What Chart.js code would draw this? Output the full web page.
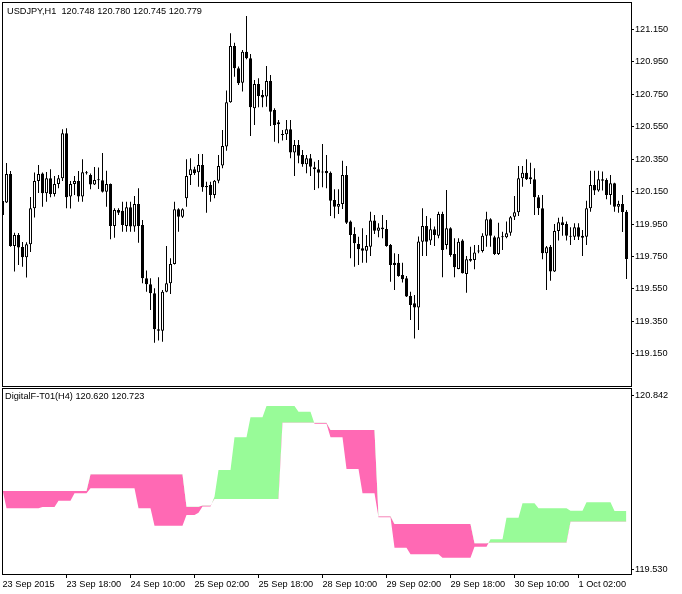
<!DOCTYPE html>
<html>
<head>
<meta charset="utf-8">
<script src="https://cdn.jsdelivr.net/npm/chart.js@4.4.0/dist/chart.umd.min.js"></script>
<style>
body { margin: 0; background: #fff; width: 682px; height: 594px; overflow: hidden; position: relative; }
canvas { position: absolute; left: 0; }
#priceChart { top: 0; }
#indChart { top: 387px; }
.hdr { position: absolute; font-family: "Liberation Sans", Arial, sans-serif; font-size: 9.2px; line-height: 11px; color: #000; white-space: pre; }
</style>
</head>
<body>
<canvas id="priceChart" width="682" height="387" style="width:682px;height:387px"></canvas>
<canvas id="indChart" width="682" height="207" style="width:682px;height:207px"></canvas>
<div class="hdr" style="left:7px;top:6px">USDJPY,H1  120.748 120.780 120.745 120.779</div>
<div class="hdr" style="left:5px;top:391px">DigitalF-T01(H4) 120.620 120.723</div>
<script>
// H1 candles, 23 Sep 02:00 .. 1 Oct 14:00
var open = [
 120.092, 120.082, 120.258, 119.815, 119.883, 119.808, 119.745, 119.825, 120.047, 120.215,
 120.262, 120.140, 120.232, 120.135, 120.197, 120.232, 120.509, 120.119, 120.197, 120.215,
 120.119, 120.269, 120.252, 120.194, 120.222, 120.220, 120.149, 120.197, 119.938, 120.037,
 120.032, 119.938, 120.053, 119.934, 120.074, 119.944, 119.616, 119.579, 119.523, 119.302,
 119.293, 119.533, 119.585, 119.704, 120.041, 119.995, 120.109, 120.252, 120.287, 120.269,
 120.314, 120.185, 120.191, 120.129, 120.217, 120.310, 120.427, 120.700, 121.047, 120.910,
 120.821, 121.012, 120.971, 120.663, 120.813, 120.745, 120.735, 120.831, 120.653, 120.565,
 120.500, 120.503, 120.534, 120.390, 120.437, 120.376, 120.318, 120.355, 120.300, 120.287,
 120.268, 120.277, 120.266, 120.098, 120.057, 120.074, 120.252, 119.965, 119.889, 119.827,
 119.801, 119.786, 119.810, 119.971, 119.909, 119.928, 119.920, 119.821, 119.712, 119.712,
 119.636, 119.616, 119.507, 119.462, 119.436, 119.841, 119.938, 119.848, 119.918, 119.877,
 120.012, 119.821, 119.924, 119.766, 119.673, 119.848, 119.642, 119.735, 119.729, 119.780,
 119.784, 119.877, 119.979, 119.869, 119.766, 119.869, 119.869, 119.897, 119.995, 120.023,
 120.232, 120.266, 120.238, 120.226, 120.115, 120.047, 119.770, 119.810, 119.657, 119.907,
 119.961, 119.950, 119.874, 119.872, 119.930, 119.877, 119.872, 120.047, 120.191, 120.156,
 120.226, 120.222, 120.129, 120.201, 120.057, 120.074, 120.026
];
var high = [
 120.129, 120.326, 120.277, 119.897, 119.895, 119.840, 119.838, 120.117, 120.268, 120.314,
 120.268, 120.271, 120.287, 120.246, 120.252, 120.534, 120.540, 120.215, 120.246, 120.277,
 120.349, 120.277, 120.261, 120.302, 120.299, 120.388, 120.279, 120.200, 120.047, 120.047,
 120.088, 120.088, 120.088, 120.123, 120.170, 119.975, 119.663, 119.616, 119.554, 119.622,
 119.544, 119.815, 119.739, 120.088, 120.047, 120.047, 120.349, 120.355, 120.303, 120.382,
 120.382, 120.211, 120.211, 120.222, 120.376, 120.530, 120.772, 121.125, 121.067, 120.920,
 121.022, 121.232, 120.998, 120.838, 120.848, 120.776, 120.924, 120.868, 120.663, 120.591,
 120.530, 120.591, 120.591, 120.468, 120.468, 120.406, 120.376, 120.382, 120.334, 120.345,
 120.443, 120.376, 120.273, 120.164, 120.164, 120.340, 120.308, 119.971, 119.930, 119.872,
 119.924, 119.883, 120.026, 120.006, 119.955, 120.006, 119.975, 119.827, 119.770, 119.766,
 119.712, 119.630, 119.533, 119.513, 119.873, 120.047, 120.000, 119.986, 119.934, 120.026,
 120.026, 120.160, 119.930, 119.862, 119.862, 119.856, 119.753, 119.810, 119.821, 119.821,
 119.893, 120.026, 119.986, 119.877, 119.958, 119.903, 119.965, 120.000, 120.123, 120.308,
 120.308, 120.349, 120.328, 120.294, 120.129, 120.129, 119.815, 119.821, 119.950, 119.989,
 119.995, 119.965, 119.930, 119.955, 119.955, 119.913, 120.094, 120.279, 120.279, 120.279,
 120.273, 120.232, 120.252, 120.205, 120.094, 120.129, 120.037
];
var low = [
 120.000, 120.080, 119.810, 119.657, 119.698, 119.687, 119.621, 119.778, 119.990, 120.141,
 120.057, 120.088, 120.115, 120.119, 120.170, 120.215, 120.047, 120.046, 120.129, 120.088,
 120.088, 120.255, 120.164, 120.191, 120.166, 120.145, 120.057, 119.856, 119.866, 120.006,
 119.903, 119.903, 119.903, 119.903, 119.835, 119.585, 119.533, 119.421, 119.219, 119.232,
 119.225, 119.530, 119.519, 119.700, 119.903, 119.987, 120.057, 120.191, 120.252, 120.180,
 120.149, 120.020, 120.088, 120.109, 120.201, 120.294, 120.402, 120.698, 120.858, 120.807,
 120.766, 120.965, 120.493, 120.560, 120.669, 120.669, 120.673, 120.554, 120.457, 120.448,
 120.464, 120.468, 120.355, 120.246, 120.324, 120.303, 120.263, 120.246, 120.160, 120.170,
 120.177, 120.170, 120.000, 119.986, 120.012, 120.043, 119.950, 119.739, 119.687, 119.698,
 119.712, 119.712, 119.753, 119.889, 119.869, 119.862, 119.810, 119.595, 119.544, 119.625,
 119.589, 119.500, 119.359, 119.245, 119.297, 119.753, 119.753, 119.821, 119.815, 119.862,
 119.622, 119.795, 119.749, 119.622, 119.671, 119.645, 119.527, 119.718, 119.671, 119.770,
 119.774, 119.810, 119.810, 119.759, 119.759, 119.790, 119.862, 119.877, 119.975, 120.000,
 120.180, 120.222, 120.197, 120.006, 120.006, 119.733, 119.544, 119.601, 119.655, 119.848,
 119.877, 119.848, 119.821, 119.852, 119.852, 119.753, 119.821, 120.026, 120.129, 120.149,
 120.156, 120.103, 120.068, 120.026, 120.020, 119.901, 119.612
];
var close = [
 120.006, 120.258, 119.815, 119.883, 119.806, 119.745, 119.825, 120.047, 120.215, 120.258,
 120.140, 120.232, 120.135, 120.197, 120.232, 120.509, 120.115, 120.197, 120.215, 120.119,
 120.269, 120.263, 120.194, 120.222, 120.220, 120.149, 120.197, 119.938, 120.037, 120.020,
 119.944, 120.053, 119.934, 120.074, 119.938, 119.616, 119.579, 119.523, 119.302, 119.293,
 119.533, 119.585, 119.704, 120.041, 119.995, 120.041, 120.246, 120.287, 120.263, 120.314,
 120.177, 120.177, 120.129, 120.217, 120.308, 120.431, 120.700, 121.047, 120.910, 120.817,
 121.012, 120.971, 120.669, 120.813, 120.739, 120.729, 120.831, 120.642, 120.560, 120.577,
 120.498, 120.534, 120.390, 120.437, 120.371, 120.318, 120.355, 120.303, 120.287, 120.266,
 120.273, 120.263, 120.094, 120.057, 120.074, 120.252, 119.958, 119.883, 119.832, 119.795,
 119.786, 119.815, 119.971, 119.909, 119.928, 119.918, 119.815, 119.698, 119.698, 119.630,
 119.610, 119.503, 119.451, 119.436, 119.843, 119.938, 119.841, 119.918, 119.883, 120.012,
 119.790, 119.924, 119.759, 119.684, 119.841, 119.647, 119.733, 119.724, 119.774, 119.784,
 119.877, 119.979, 119.877, 119.766, 119.869, 119.870, 119.893, 119.992, 120.023, 120.232,
 120.266, 120.226, 120.226, 120.115, 120.047, 119.770, 119.807, 119.657, 119.907, 119.961,
 119.944, 119.877, 119.872, 119.930, 119.872, 119.866, 120.047, 120.191, 120.156, 120.226,
 120.217, 120.129, 120.201, 120.057, 120.074, 120.024, 119.735
];

// DigitalF-T01(H4) lines
var fastLine = [
 120.129, 119.988, 119.988, 119.988, 119.988, 119.988, 119.988, 119.988, 119.988, 119.988,
 119.997, 119.997, 119.997, 119.997, 120.045, 120.045, 120.045, 120.045, 120.101, 120.101,
 120.101, 120.101, 120.138, 120.138, 120.138, 120.138, 120.138, 120.138, 120.138, 120.138,
 120.138, 120.138, 120.138, 120.138, 119.988, 119.988, 119.988, 119.988, 119.856, 119.856,
 119.856, 119.856, 119.856, 119.856, 119.856, 119.856, 119.937, 119.937, 119.937, 119.954,
 120.001, 120.001, 120.001, 120.075, 120.276, 120.276, 120.276, 120.276, 120.523, 120.523,
 120.523, 120.523, 120.674, 120.674, 120.674, 120.674, 120.759, 120.759, 120.759, 120.759,
 120.759, 120.759, 120.759, 120.759, 120.716, 120.716, 120.716, 120.716, 120.626, 120.626,
 120.626, 120.626, 120.523, 120.523, 120.523, 120.523, 120.284, 120.284, 120.284, 120.284,
 120.101, 120.101, 120.101, 120.101, 119.920, 119.920, 119.920, 119.920, 119.691, 119.691,
 119.691, 119.691, 119.641, 119.641, 119.641, 119.641, 119.641, 119.641, 119.641, 119.641,
 119.615, 119.615, 119.615, 119.615, 119.615, 119.615, 119.615, 119.615, 119.698, 119.698,
 119.698, 119.698, 119.754, 119.754, 119.754, 119.754, 119.917, 119.917, 119.917, 119.917,
 120.025, 120.025, 120.025, 120.025, 119.988, 119.988, 119.988, 119.988, 119.988, 119.988,
 119.988, 119.988, 119.970, 119.970, 119.970, 119.970, 120.033, 120.033, 120.033, 120.033,
 120.033, 120.033, 120.033, 119.967, 119.967, 119.967, 119.967
];
var slowLine = [
 120.118, 120.118, 120.118, 120.118, 120.118, 120.118, 120.118, 120.118, 120.118, 120.118,
 120.118, 120.118, 120.118, 120.118, 120.118, 120.118, 120.118, 120.118, 120.118, 120.118,
 120.118, 120.118, 120.244, 120.244, 120.244, 120.244, 120.244, 120.244, 120.244, 120.244,
 120.244, 120.244, 120.244, 120.244, 120.244, 120.244, 120.244, 120.244, 120.244, 120.244,
 120.244, 120.244, 120.244, 120.244, 120.244, 120.244, 119.999, 119.999, 119.999, 119.999,
 120.009, 120.009, 120.009, 120.058, 120.058, 120.058, 120.058, 120.058, 120.058, 120.058,
 120.058, 120.058, 120.058, 120.058, 120.058, 120.058, 120.058, 120.058, 120.058, 120.058,
 120.633, 120.633, 120.633, 120.633, 120.633, 120.633, 120.633, 120.633, 120.633, 120.633,
 120.633, 120.633, 120.578, 120.578, 120.578, 120.578, 120.578, 120.578, 120.578, 120.578,
 120.578, 120.578, 120.578, 120.578, 119.927, 119.927, 119.927, 119.927, 119.869, 119.869,
 119.869, 119.869, 119.869, 119.869, 119.869, 119.869, 119.869, 119.869, 119.869, 119.869,
 119.869, 119.869, 119.869, 119.869, 119.869, 119.869, 119.869, 119.869, 119.724, 119.724,
 119.724, 119.724, 119.728, 119.728, 119.728, 119.728, 119.728, 119.728, 119.728, 119.728,
 119.728, 119.728, 119.728, 119.728, 119.728, 119.728, 119.728, 119.728, 119.728, 119.728,
 119.728, 119.728, 119.887, 119.887, 119.887, 119.887, 119.887, 119.887, 119.887, 119.887,
 119.887, 119.887, 119.887, 119.887, 119.887, 119.887, 119.887
];

var priceTicks = [119.150, 119.350, 119.550, 119.750, 119.950, 120.150, 120.350, 120.550, 120.750, 120.950, 121.150];
var indTicks = [119.530, 120.842];
var timeBars = [0, 16, 32, 48, 64, 80, 96, 112, 128, 144];
var timeLabels = ['23 Sep 2015', '23 Sep 18:00', '24 Sep 10:00', '25 Sep 02:00', '25 Sep 18:00',
                  '28 Sep 10:00', '29 Sep 02:00', '29 Sep 18:00', '30 Sep 10:00', '1 Oct 02:00'];

var axisFont = { family: 'Liberation Sans', size: 9.2 };
var xMin = -0.125, xMax = 157.125;

// black frame round each plot area
var framePlugin = {
  id: 'frame',
  afterDraw: function(chart) {
    var a = chart.chartArea, ctx = chart.ctx;
    ctx.save();
    ctx.strokeStyle = '#000';
    ctx.lineWidth = 1;
    ctx.strokeRect(a.left + 0.5, a.top + 0.5, a.right - a.left, a.bottom - a.top);
    ctx.restore();
  }
};

function noPad(s) { s.paddingTop = 0; s.paddingBottom = 0; s.paddingLeft = 0; s.paddingRight = 0; }

var wicks = [], bodies = [], bodyColors = [];
for (var i = 0; i < open.length; i++) {
  wicks.push({ x: i, y: [low[i], high[i]] });
  bodies.push({ x: i, y: [open[i], close[i]] });
  bodyColors.push(close[i] > open[i] ? '#fff' : '#000');
}

new Chart(document.getElementById('priceChart'), {
  type: 'bar',
  data: {
    datasets: [{
      data: bodies,
      backgroundColor: bodyColors,
      borderColor: '#000',
      borderWidth: 1,
      borderSkipped: false,
      barThickness: 3,
      minBarLength: 1,
      inflateAmount: 0,
      grouped: false,
      order: 0
    }, {
      data: wicks,
      backgroundColor: '#000',
      borderWidth: 0,
      barThickness: 1,
      inflateAmount: 0,
      grouped: false,
      order: 1
    }]
  },
  options: {
    responsive: false,
    animation: false,
    events: [],
    layout: { padding: { left: 2, top: 2, right: 0, bottom: 1 } },
    plugins: { legend: { display: false }, tooltip: { enabled: false } },
    scales: {
      x: { type: 'linear', min: xMin, max: xMax, offset: false, display: false },
      y: {
        position: 'right',
        min: 118.952, max: 121.318,
        afterBuildTicks: function(s) { s.ticks = priceTicks.map(function(v) { return { value: v }; }); },
        afterFit: function(s) { s.width = 51; noPad(s); },
        ticks: { callback: function(v) { return v.toFixed(3); }, color: '#000', font: axisFont, padding: 1, autoSkip: false },
        grid: { drawOnChartArea: false, color: '#000', tickLength: 3 },
        border: { display: false }
      }
    }
  },
  plugins: [framePlugin]
});

new Chart(document.getElementById('indChart'), {
  type: 'line',
  data: {
    datasets: [{
      data: fastLine.map(function(v, i) { return { x: i, y: v }; }),
      borderColor: 'rgba(0,0,0,0)',
      borderWidth: 0,
      pointRadius: 0,
      tension: 0,
      fill: { target: 1, above: '#98FB98', below: '#FF69B4' }
    }, {
      data: slowLine.map(function(v, i) { return { x: i, y: v }; }),
      borderColor: 'rgba(0,0,0,0)',
      borderWidth: 0,
      pointRadius: 0,
      tension: 0,
      fill: false
    }]
  },
  options: {
    responsive: false,
    animation: false,
    events: [],
    layout: { padding: { left: 2, top: 1, right: 0, bottom: 0 } },
    plugins: { legend: { display: false }, tooltip: { enabled: false } },
    scales: {
      x: {
        type: 'linear', min: xMin, max: xMax, offset: false,
        afterBuildTicks: function(s) { s.ticks = timeBars.map(function(v) { return { value: v }; }); },
        afterFit: function(s) { s.height = 20; noPad(s); },
        ticks: {
          callback: function(v, idx) { return timeLabels[idx]; },
          align: 'start', autoSkip: false, maxRotation: 0, padding: 1,
          color: '#000', font: axisFont
        },
        grid: {
          drawOnChartArea: false, tickLength: 4,
          color: function(c) { return c.index === 0 ? 'rgba(0,0,0,0)' : '#000'; }
        },
        border: { display: false }
      },
      y: {
        position: 'right',
        min: 119.4923, max: 120.8948,
        afterBuildTicks: function(s) { s.ticks = indTicks.map(function(v) { return { value: v }; }); },
        afterFit: function(s) { s.width = 51; noPad(s); },
        ticks: { callback: function(v) { return v.toFixed(3); }, color: '#000', font: axisFont, padding: 1, autoSkip: false },
        grid: { drawOnChartArea: false, color: '#000', tickLength: 3 },
        border: { display: false }
      }
    }
  },
  plugins: [framePlugin]
});
</script>
</body>
</html>
